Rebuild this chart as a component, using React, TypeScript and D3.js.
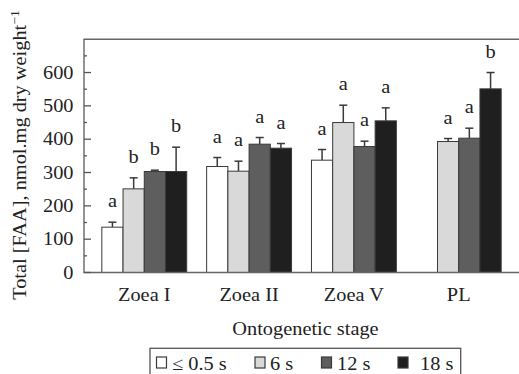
import React from 'react';
import * as d3 from 'd3';

// stages and exposure times
const stages = ['Zoea I', 'Zoea II', 'Zoea V', 'PL'];
const series = ['≤ 0.5 s', '6 s', '12 s', '18 s'];
const colors = ['#ffffff', '#d9d9d9', '#5e5e5e', '#1f1f1f'];

// mean values per stage (null = no data)
const means = [
  [136, 251, 303, 303],
  [318, 304, 385, 373],
  [337, 450, 378, 455],
  [null, 393, 403, 551],
];
// upper end of error bars
const errTops = [
  [151, 284, 307, 376],
  [345, 334, 405, 387],
  [369, 502, 394, 494],
  [null, 402, 433, 600],
];
const letters = [
  ['a', 'b', 'b', 'b'],
  ['a', 'a', 'a', 'a'],
  ['a', 'a', 'a', 'a'],
  ['', 'a', 'a', 'b'],
];
const majorTicks = [0, 100, 200, 300, 400, 500, 600];
const minorTicks = [50, 150, 250, 350, 450, 550, 650];

const W = 519;
const H = 374;
const left = 84;
const top = 39.2;
const bottom = 272.5;
const SX = 1.1; // the original type is a bit wide

const Txt = ({ x, y, anchor = 'start', size = 18.5, rot = 0, dy = 0, children }: any) => (
  <text transform={`translate(${x},${y}) rotate(${rot}) scale(${SX},1)`} dy={dy}
    textAnchor={anchor} fontSize={size} fill="#222">{children}</text>
);

const App = () => {
  const x = d3.scaleBand().domain(stages).range([left, 519]).paddingInner(0.19).paddingOuter(0.17);
  const xs = d3.scaleBand().domain(series).range([0, x.bandwidth()]);
  const y = d3.scaleLinear().domain([0, 700]).range([bottom, top]);
  const font = '"Liberation Serif", "Times New Roman", serif';
  const ink = '#3a3a3a';

  const legendX = [156.5, 255, 321.5, 398];
  const legendTextX = [172, 270, 337, 420];

  return (
    <svg width={W} height={H} style={{ position: 'absolute', left: 0, top: 0, background: '#fff' }}
      fontFamily={font}>
      {/* bars */}
      {stages.map((s, i) => (
        <g key={s}>
          {series.map((k, j) => {
            const v = means[i][j];
            if (v == null) return null;
            const bx = x(s)! + xs(k)!;
            const bw = xs.bandwidth();
            const e = errTops[i][j]!;
            const cx = bx + bw / 2;
            return (
              <g key={k}>
                <line x1={cx} x2={cx} y1={y(v)} y2={y(e)} stroke={ink} strokeWidth={1.5} />
                <line x1={cx - 4} x2={cx + 4} y1={y(e)} y2={y(e)} stroke={ink} strokeWidth={1.5} />
                <rect x={bx} y={y(v)} width={bw} height={bottom - y(v)} fill={colors[j]}
                  stroke={ink} strokeWidth={1} />
                <Txt x={cx} y={y(e) - 15} anchor="middle">{letters[i][j]}</Txt>
              </g>
            );
          })}
          <Txt x={x(s)! + x.bandwidth() / 2} y={300.5} anchor="middle">{s}</Txt>
        </g>
      ))}

      {/* frame */}
      <path d={`M${W + 3},${top} H${left} V${bottom} H${W + 3}`} fill="none" stroke="#666" strokeWidth={1.4} />

      {/* y ticks */}
      {majorTicks.map(t => (
        <g key={t}>
          <line x1={left} x2={left + 7} y1={y(t)} y2={y(t)} stroke="#555" strokeWidth={1.3} />
          <Txt x={73.5} y={y(t)} dy="0.34em" anchor="end">{t}</Txt>
        </g>
      ))}
      {minorTicks.map(t => (
        <line key={t} x1={left} x2={left + 3} y1={y(t)} y2={y(t)} stroke="#555" strokeWidth={1.3} />
      ))}

      {/* axis titles */}
      <Txt x={25.5} y={155} rot={-90} anchor="middle">
        Total [FAA], nmol.mg dry weight<tspan fontSize={12.5} dy={-7}>−1</tspan>
      </Txt>
      <Txt x={305.5} y={335} anchor="middle">Ontogenetic stage</Txt>

      {/* legend */}
      <rect x={150} y={348.3} width={310.7} height={40} fill="none" stroke="#555" strokeWidth={1.3} />
      {series.map((k, j) => (
        <g key={k}>
          <rect x={legendX[j]} y={357} width={10} height={11} fill={colors[j]} stroke={ink} strokeWidth={1.2} />
          <Txt x={legendTextX[j]} y={370}>{k}</Txt>
        </g>
      ))}
    </svg>
  );
};

export default App;
